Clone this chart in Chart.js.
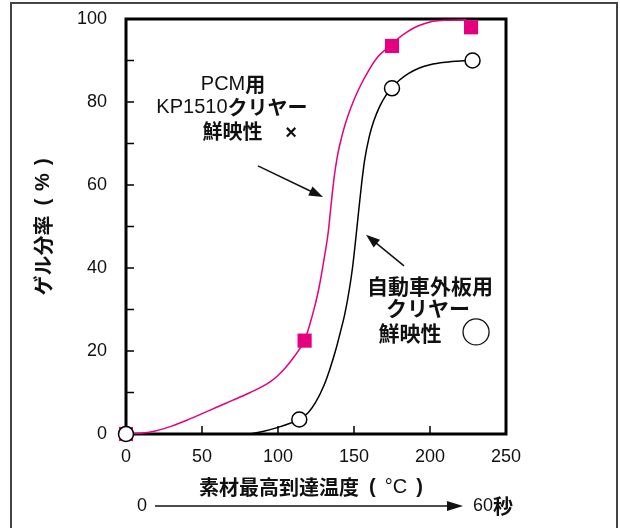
<!DOCTYPE html>
<html>
<head>
<meta charset="utf-8">
<script src="https://cdn.jsdelivr.net/npm/chart.js@4"></script>
<style>
  body { margin: 0; background: #fff; }
  #myChart { display: block; }
</style>
</head>
<body>
<canvas id="myChart" width="620" height="528"></canvas>
<script>
    // markers (PCM KP1510 = pink squares, automotive clear = open circles)
    const pcmX = [0, 117.5, 175, 227];
    const pcmY = [0, 22.5, 93.5, 98];
    const autoX = [0, 114, 175, 228];
    const autoY = [0, 3.5, 83.3, 90];

    // hand drawn curves
    const pcmCurveX = [0, 10, 20, 30, 40, 50, 60, 70, 80, 88, 95, 100, 105, 110, 114, 117.5, 121, 124, 127, 130, 133, 135, 137, 139, 141.5, 144.5, 148, 153, 160, 166, 172, 178, 185, 192, 200, 210, 224];
    const pcmCurveY = [0, 0.2, 0.8, 1.9, 3.3, 4.9, 6.5, 8.1, 9.7, 11.1, 12.6, 14.1, 16, 18.3, 20.4, 22.5, 26.5, 30.5, 35.3, 41.5, 48.5, 55.5, 62, 66.8, 71, 75, 78.7, 83, 87.8, 91, 93, 95, 96.9, 98.3, 99.3, 99.7, 99.8];
    const autoCurveX = [81, 90, 100, 108, 114, 120, 125, 130, 134, 138, 141, 144, 147, 149, 151, 153, 155, 157, 160, 163, 167, 171, 175, 180, 186, 193, 200, 210, 220, 228];
    const autoCurveY = [0, 0.6, 1.6, 2.6, 3.5, 5.2, 7.8, 11.5, 15.5, 20.3, 24.5, 29, 35, 40, 46.5, 53.5, 60.3, 66, 71.6, 75.4, 79, 81.6, 83.5, 85.3, 86.9, 88.2, 89, 89.6, 89.9, 90];

    const xTicks = [0, 50, 100, 150, 200, 250];
    const yTicks = [0, 20, 40, 60, 80, 100];
    const yInnerTicks = [10, 20, 30, 40, 50, 60, 70, 80, 90];
    const xInnerTicks = [50, 100, 150, 200];

    const pink = '#e4007f';
    const latin = '"Liberation Sans", Arial, sans-serif';
    const jp = '"Noto Sans CJK JP", sans-serif';

    function pts(xs, ys) {
      return xs.map((x, i) => ({x: x, y: ys[i]}));
    }

    // draw a line of text made of runs with different fonts, centred on cx
    // a run may carry a gap (extra px after it)
    function drawRuns(ctx, runs, cx, cy, align) {
      let total = 0;
      runs.forEach(r => { ctx.font = r.font; r.w = ctx.measureText(r.text).width + (r.gap || 0); total += r.w; });
      let x = align === 'left' ? cx : cx - total / 2;
      ctx.textBaseline = 'middle';
      ctx.textAlign = 'left';
      runs.forEach(r => { ctx.font = r.font; ctx.fillText(r.text, x, cy); x += r.w; });
    }

    function arrow(ctx, x1, y1, x2, y2, head, half) {
      const a = Math.atan2(y2 - y1, x2 - x1);
      ctx.beginPath();
      ctx.moveTo(x1, y1);
      ctx.lineTo(x2 - Math.cos(a) * head * 0.8, y2 - Math.sin(a) * head * 0.8);
      ctx.stroke();
      ctx.beginPath();
      ctx.moveTo(x2, y2);
      ctx.lineTo(x2 - Math.cos(a) * head + Math.sin(a) * half, y2 - Math.sin(a) * head - Math.cos(a) * half);
      ctx.lineTo(x2 - Math.cos(a) * head - Math.sin(a) * half, y2 - Math.sin(a) * head + Math.cos(a) * half);
      ctx.closePath();
      ctx.fill();
    }

    const decor = {
      id: 'decor',
      beforeDraw(chart) {
        const ctx = chart.ctx;
        ctx.save();
        ctx.fillStyle = '#fff';
        ctx.fillRect(0, 0, chart.width, chart.height);
        ctx.strokeStyle = '#444';
        ctx.lineWidth = 2;
        ctx.strokeRect(11, 3, 606, 600);
        ctx.restore();
      },
      beforeDatasetsDraw(chart) {
        const ctx = chart.ctx;
        const a = chart.chartArea;
        const xs = chart.scales.x, ys = chart.scales.y;
        ctx.save();
        ctx.strokeStyle = '#000';
        ctx.lineWidth = 3;
        ctx.strokeRect(a.left, a.top, a.right - a.left, a.bottom - a.top);
        ctx.lineWidth = 1.5;
        ctx.beginPath();
        yInnerTicks.forEach(v => {
          const y = ys.getPixelForValue(v);
          ctx.moveTo(a.left, y);
          ctx.lineTo(a.left + 8, y);
        });
        xInnerTicks.forEach(v => {
          const x = xs.getPixelForValue(v);
          ctx.moveTo(x, a.bottom);
          ctx.lineTo(x, a.bottom - 8);
        });
        ctx.stroke();
        ctx.restore();
      },
      afterDraw(chart) {
        const ctx = chart.ctx;
        const xs = chart.scales.x, ys = chart.scales.y;
        const px = v => xs.getPixelForValue(v);
        const py = v => ys.getPixelForValue(v);
        ctx.save();
        ctx.fillStyle = '#111';
        ctx.strokeStyle = '#111';

        // annotations
        const reg = '20px ' + latin, bold = 'bold 20px ' + jp, boldL = 'bold 20px ' + latin;
        drawRuns(ctx, [{text: 'PCM', font: reg}, {text: '用', font: bold}], px(70.4), py(84.2));
        drawRuns(ctx, [{text: 'KP1510', font: reg}, {text: 'クリヤー', font: bold}], px(69.7), py(78.6));
        drawRuns(ctx, [{text: '鮮映性', font: bold}], px(70), py(72.8));
        drawRuns(ctx, [{text: '×', font: boldL}], px(108.6), py(72.4));
        ctx.lineWidth = 1.5;
        arrow(ctx, px(86.8), py(64.6), px(129.6), py(57.1), 14, 5);
        arrow(ctx, px(182.9), py(40.5), px(157.9), py(48), 14, 5);

        const bold21 = 'bold 21px ' + jp;
        drawRuns(ctx, [{text: '自動車外板用', font: bold21}], px(200), py(35.7));
        drawRuns(ctx, [{text: 'クリヤー', font: bold21}], px(198.7), py(30.4));
        drawRuns(ctx, [{text: '鮮映性', font: bold21}], px(186.8), py(24.3));
        ctx.beginPath();
        ctx.lineWidth = 1.3;
        ctx.ellipse(px(230.3), py(24.6), 13, 13, 0, 0, Math.PI * 2);
        ctx.stroke();

        // axis titles
        drawRuns(ctx, [
          {text: '素材最高到達温度', font: bold, gap: 10},
          {text: '(', font: boldL, gap: 9},
          {text: '°C', font: reg, gap: 9},
          {text: ')', font: boldL}
        ], 311, 487);
        ctx.save();
        ctx.translate(43, 227);
        ctx.rotate(-Math.PI / 2);
        drawRuns(ctx, [
          {text: 'ゲル分率', font: bold, gap: 10},
          {text: '(', font: boldL, gap: 8},
          {text: '%', font: boldL, gap: 8},
          {text: ')', font: boldL}
        ], 0, 0);
        ctx.restore();

        // time arrow under the x axis
        drawRuns(ctx, [{text: '0', font: '18px ' + latin}], 142, 506);
        ctx.lineWidth = 1.5;
        arrow(ctx, 155, 506, 463, 506, 16, 5);
        drawRuns(ctx, [{text: '60', font: '18px ' + latin}, {text: '秒', font: 'bold 20px ' + jp}], 473, 506, 'left');
        ctx.restore();
      }
    };

    const data = {
      datasets: [{
        label: 'PCM curve',
        data: pts(pcmCurveX, pcmCurveY),
        showLine: true,
        borderColor: pink,
        borderWidth: 1.5,
        pointRadius: 0,
        cubicInterpolationMode: 'monotone',
        clip: false,
        order: 2
      }, {
        label: 'auto curve',
        data: pts(autoCurveX, autoCurveY),
        showLine: true,
        borderColor: '#000',
        borderWidth: 1.5,
        pointRadius: 0,
        cubicInterpolationMode: 'monotone',
        clip: false,
        order: 2
      }, {
        label: 'PCM用KP1510クリヤー',
        data: pts(pcmX, pcmY),
        pointStyle: 'rect',
        pointRadius: 10,
        backgroundColor: pink,
        borderWidth: 0,
        clip: false,
        order: 1
      }, {
        label: '自動車外板用クリヤー',
        data: pts(autoX, autoY),
        pointStyle: 'circle',
        pointRadius: 7.5,
        backgroundColor: '#fff',
        borderColor: '#000',
        borderWidth: 1.5,
        clip: false,
        order: 0
      }]
    };

    const config = {
      type: 'scatter',
      data: data,
      plugins: [decor],
      options: {
        responsive: false,
        animation: false,
        devicePixelRatio: 1,
        layout: { padding: { top: 19, right: 114, left: 0, bottom: 0 } },
        plugins: { legend: { display: false }, tooltip: { enabled: false } },
        scales: {
          x: {
            type: 'linear',
            min: 0,
            max: 250,
            afterBuildTicks: s => { s.ticks = xTicks.map(v => ({value: v})); },
            afterFit: s => { s.height = 94; },
            grid: { display: false, drawTicks: false },
            border: { display: false },
            ticks: { color: '#111', padding: 12, font: { size: 18, family: latin } }
          },
          y: {
            type: 'linear',
            min: 0,
            max: 100,
            afterBuildTicks: s => { s.ticks = yTicks.map(v => ({value: v})); },
            // label padding would otherwise push the plot top down
            afterFit: s => { s.width = 126; s.paddingTop = 11; s.paddingBottom = 11; },
            grid: { display: false, drawTicks: false },
            border: { display: false },
            ticks: { color: '#111', padding: 19, font: { size: 18, family: latin } }
          }
        }
      }
    };

const myChart = new Chart(
  document.getElementById('myChart'),
  config
);
</script>
</body>
</html>
